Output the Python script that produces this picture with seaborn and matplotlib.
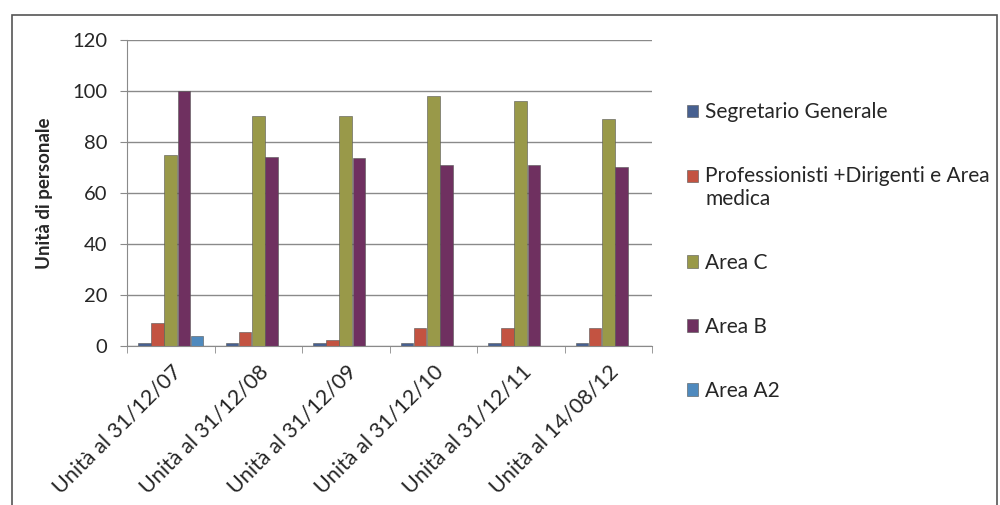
import pandas as pd
import numpy as np
import seaborn as sns
import matplotlib.pyplot as plt
from matplotlib.patches import Rectangle

# dati
periodi = ['Unità al 31/12/07', 'Unità al 31/12/08', 'Unità al 31/12/09',
           'Unità al 31/12/10', 'Unità al 31/12/11', 'Unità al 14/08/12']
serie = ['Segretario Generale', 'Professionisti +Dirigenti e Area\nmedica',
         'Area C', 'Area B', 'Area A2']
segretario = [1, 1, 1, 1, 1, 1]
professionisti = [9, 5.5, 2.5, 7, 7, 7]
area_c = [75, 90, 90, 98, 96, 89]
area_b = [100, 74, 73.5, 71, 71, 70]
area_a2 = [4, 0, 0, 0, 0, 0]
colori = ['#3b5c9c', '#d9442b', '#a6a63c', '#7a2566', '#3d8bd0']

df = pd.DataFrame({
    'periodo': periodi * 5,
    'serie': np.repeat(serie, len(periodi)),
    'unita': segretario + professionisti + area_c + area_b + area_a2,
})

sns.set_style('white')
plt.rcParams['font.family'] = ['Lato', 'DejaVu Sans']

fig = plt.figure(figsize=(10, 5.05), dpi=100)
ax = fig.add_axes([0.127, 0.315, 0.525, 0.606])

sns.barplot(data=df, x='periodo', y='unita', hue='serie', hue_order=serie,
            order=periodi, palette=colori, width=0.75, gap=0.04,
            edgecolor='#555555', linewidth=0.4, ax=ax)

ax.set_ylim(0, 120)
ax.set_yticks(range(0, 121, 20))
ax.set_xlim(-0.5, 5.5)
ax.yaxis.grid(True, color='#8a8a8a', linewidth=1.0)
ax.set_axisbelow(True)
for s in ['top', 'right']:
    ax.spines[s].set_visible(False)
ax.spines['left'].set_color('#8a8a8a')
ax.spines['bottom'].set_color('#8a8a8a')

ax.set_xlabel('')
ax.set_ylabel('Unità di personale', fontsize=13.5, fontweight='bold', labelpad=14)
ax.tick_params(axis='y', labelsize=14.5, length=5, color='#8a8a8a', direction='out', left=True, pad=9)
ax.set_xticks(range(len(periodi)))
ax.set_xticklabels(periodi, rotation=45, ha='right', rotation_mode='anchor', fontsize=15.5)
ax.tick_params(axis='x', length=0, pad=11)
ax.set_xticks(np.arange(-0.5, 6, 1), minor=True)
ax.tick_params(axis='x', which='minor', length=5, color='#8a8a8a', bottom=True)

handles, labels = ax.get_legend_handles_labels()
leg = ax.legend(handles, labels, loc='upper left', bbox_to_anchor=(1.03, 0.857),
                frameon=False, fontsize=15, handlelength=0.55, handleheight=0.55,
                handletextpad=0.35, labelspacing=2.1)
# quadratino allineato alla prima riga, come in Excel
leg.legend_handles[1].set_y(leg.legend_handles[1].get_y() + 9)

fig.patches.append(Rectangle((0.012, -0.02), 0.985, 0.99, transform=fig.transFigure,
                             fill=False, edgecolor='#555555', linewidth=1.2))

fig.savefig('out.png', dpi=100)
